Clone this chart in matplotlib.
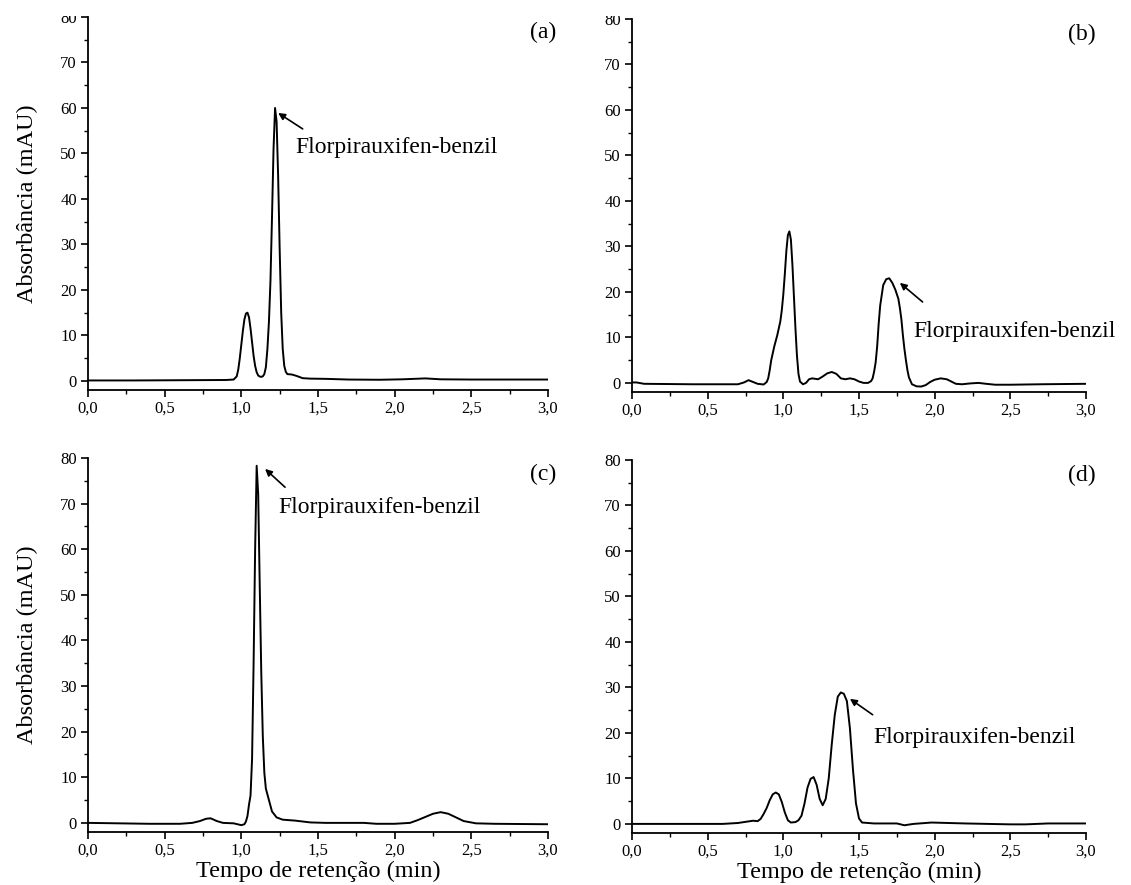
import matplotlib
matplotlib.use('Agg')
import matplotlib.pyplot as plt
from matplotlib.ticker import AutoMinorLocator
from matplotlib.patches import Rectangle

plt.rcParams['font.family'] = ['Liberation Serif', 'DejaVu Serif']

# retention time (min) / absorbance (mAU)
t_a = [0.00, 0.30, 0.60, 0.90, 0.95, 0.97, 0.98, 0.99, 1.00, 1.01, 1.02, 1.03, 1.04, 1.05,
       1.06, 1.07, 1.08, 1.09, 1.10, 1.11, 1.12, 1.13, 1.14, 1.15, 1.16, 1.17, 1.18, 1.19,
       1.20, 1.21, 1.22, 1.23, 1.24, 1.25, 1.26, 1.27, 1.28, 1.29, 1.30, 1.33, 1.36, 1.40,
       1.45, 1.55, 1.70, 1.90, 2.05, 2.20, 2.30, 2.50, 3.00]
y_a = [0.1, 0.1, 0.15, 0.2, 0.3, 1.0, 2.5, 5.0, 8.0, 11.0, 13.5, 14.8, 15.0, 14.0,
       11.5, 8.5, 5.5, 3.3, 1.9, 1.2, 0.95, 0.9, 1.0, 1.5, 3.0, 7.0, 13.0, 22.0,
       36.0, 51.0, 60.0, 57.0, 45.0, 29.0, 15.0, 7.0, 3.3, 2.0, 1.5, 1.4, 1.1, 0.6,
       0.5, 0.45, 0.3, 0.25, 0.35, 0.55, 0.35, 0.3, 0.3]

t_b = [0.00, 0.03, 0.08, 0.40, 0.70, 0.74, 0.77, 0.80, 0.83, 0.87, 0.89, 0.90, 0.91, 0.92,
       0.94, 0.96, 0.98, 0.99, 1.00, 1.01, 1.02, 1.03, 1.04, 1.05, 1.06, 1.07, 1.08, 1.09,
       1.10, 1.11, 1.13, 1.15, 1.17, 1.19, 1.21, 1.23, 1.26, 1.29, 1.32, 1.35, 1.38, 1.41,
       1.44, 1.47, 1.50, 1.53, 1.56, 1.58, 1.59, 1.60, 1.61, 1.62, 1.63, 1.64, 1.66, 1.68,
       1.70, 1.72, 1.74, 1.76, 1.77, 1.78, 1.79, 1.80, 1.81, 1.82, 1.83, 1.85, 1.88, 1.91,
       1.94, 1.97, 2.00, 2.04, 2.08, 2.11, 2.14, 2.18, 2.24, 2.29, 2.34, 2.40, 2.50, 2.70,
       3.00]
y_b = [0.1, 0.1, -0.2, -0.3, -0.3, 0.1, 0.6, 0.2, -0.2, -0.35, 0.2, 1.0, 2.8, 5.0,
       8.0, 10.5, 13.5, 16.0, 19.5, 24.0, 29.0, 32.5, 33.3, 31.5, 26.0, 19.0, 12.0, 6.0,
       2.0, 0.3, -0.3, 0.0, 0.8, 1.0, 0.9, 0.8, 1.4, 2.1, 2.4, 2.0, 1.0, 0.8,
       1.0, 0.8, 0.3, 0.0, 0.0, 0.4, 1.0, 2.5, 4.5, 8.0, 13.0, 17.0, 21.5, 22.8,
       23.0, 22.0, 20.5, 18.5, 16.5, 14.0, 10.5, 7.5, 5.0, 2.8, 1.2, -0.3, -0.75, -0.8,
       -0.5, 0.2, 0.7, 1.0, 0.8, 0.3, -0.2, -0.3, -0.1, 0.0, -0.2, -0.4, -0.4, -0.3,
       -0.2]

t_c = [0.00, 0.40, 0.60, 0.68, 0.73, 0.77, 0.80, 0.84, 0.88, 0.95, 1.00, 1.02, 1.03, 1.04,
       1.05, 1.06, 1.07, 1.08, 1.09, 1.10, 1.11, 1.12, 1.13, 1.14, 1.15, 1.16, 1.18, 1.20,
       1.23, 1.27, 1.35, 1.45, 1.55, 1.70, 1.80, 1.88, 2.00, 2.10, 2.15, 2.20, 2.25, 2.30,
       2.35, 2.40, 2.45, 2.53, 2.65, 3.00]
y_c = [0.0, -0.2, -0.2, 0.0, 0.4, 0.9, 1.0, 0.4, 0.0, -0.1, -0.5, -0.3, 0.3, 1.5,
       4.0, 6.0, 14.0, 35.0, 60.0, 78.3, 72.0, 52.0, 33.0, 19.0, 11.0, 7.5, 5.0, 2.5,
       1.2, 0.7, 0.5, 0.1, 0.0, 0.0, 0.0, -0.2, -0.2, 0.0, 0.6, 1.3, 2.0, 2.35,
       2.0, 1.2, 0.4, -0.1, -0.2, -0.3]

t_d = [0.00, 0.40, 0.60, 0.70, 0.76, 0.80, 0.83, 0.85, 0.87, 0.89, 0.91, 0.93, 0.95, 0.97,
       0.99, 1.01, 1.03, 1.05, 1.08, 1.10, 1.12, 1.14, 1.16, 1.18, 1.20, 1.22, 1.24, 1.26,
       1.28, 1.30, 1.32, 1.34, 1.36, 1.38, 1.40, 1.42, 1.44, 1.46, 1.48, 1.50, 1.52, 1.60,
       1.75, 1.80, 1.86, 1.98, 2.20, 2.50, 2.60, 2.75, 3.00]
y_d = [0.0, 0.0, 0.0, 0.2, 0.5, 0.7, 0.6, 1.1, 2.2, 3.5, 5.2, 6.5, 6.9, 6.5,
       4.8, 2.5, 0.8, 0.3, 0.4, 0.8, 1.8, 4.5, 8.0, 9.9, 10.3, 8.6, 5.5, 4.1,
       5.5, 10.0, 17.5, 24.0, 28.0, 28.9, 28.6, 27.0, 21.0, 12.0, 4.5, 1.2, 0.3, 0.1,
       0.1, -0.3, 0.0, 0.3, 0.1, -0.1, -0.1, 0.1, 0.1]

xticks = [0.0, 0.5, 1.0, 1.5, 2.0, 2.5, 3.0]
xtick_labels = ['0,0', '0,5', '1,0', '1,5', '2,0', '2,5', '3,0']
yticks = [0, 10, 20, 30, 40, 50, 60, 70, 80]
compound = 'Florpirauxifen-benzil'

W, H = 1131, 885
fig = plt.figure(figsize=(W / 100, H / 100), dpi=100)


def panel(left, right, top, bottom, t, y, tag, tip, tail, txt, xlab, ylab):
    ax = fig.add_axes([left / W, 1 - bottom / H, (right - left) / W, (bottom - top) / H])
    ax.plot(t, y, color='black', lw=1.4)
    ax.set_xlim(0, 3)
    ax.set_ylim(-2, 80)
    for s in ['top', 'right']:
        ax.spines[s].set_visible(False)
    for s in ['left', 'bottom']:
        ax.spines[s].set_linewidth(1.3)
    ax.set_xticks(xticks)
    ax.set_xticklabels(xtick_labels)
    ax.set_yticks(yticks)
    ax.xaxis.set_minor_locator(AutoMinorLocator(2))
    ax.yaxis.set_minor_locator(AutoMinorLocator(2))
    ax.tick_params(which='major', direction='out', length=5, width=1.2, labelsize=12, pad=3)
    ax.tick_params(which='minor', direction='out', length=3, width=1.0)
    ax.text(2.97, 76.5, tag, fontsize=17, ha='center', va='center')
    ax.annotate('', xy=tip, xytext=tail,
                arrowprops=dict(arrowstyle='-|>', color='black', lw=1.2,
                                mutation_scale=10, shrinkA=0, shrinkB=0))
    ax.text(txt[0], txt[1], compound, fontsize=17, ha='left', va='center')
    if xlab:
        ax.set_xlabel('Tempo de retenção (min)', fontsize=17.5, labelpad=1)
    if ylab:
        ax.set_ylabel('Absorbância (mAU)', fontsize=17.5, labelpad=16)
    return ax


panel(88, 548, 17, 390, t_a, y_a, '(a)', (1.24, 58.9), (1.40, 55.4), (1.35, 51.4), False, True)
panel(632, 1086, 19, 392, t_b, y_b, '(b)', (1.77, 22.0), (1.92, 17.8), (1.86, 11.2), False, False)
panel(88, 548, 458, 832, t_c, y_c, '(c)', (1.155, 77.6), (1.285, 73.6), (1.24, 69.2), True, True)
panel(632, 1086, 460, 833, t_d, y_d, '(d)', (1.44, 27.5), (1.59, 24.0), (1.595, 19.1), True, False)

# the original picture is cut just above the top axes
fig.add_artist(Rectangle((0, 1 - 16 / H), 1, 16 / H, transform=fig.transFigure,
                         facecolor='white', edgecolor='none', zorder=10))

fig.savefig('out.png', dpi=100)
